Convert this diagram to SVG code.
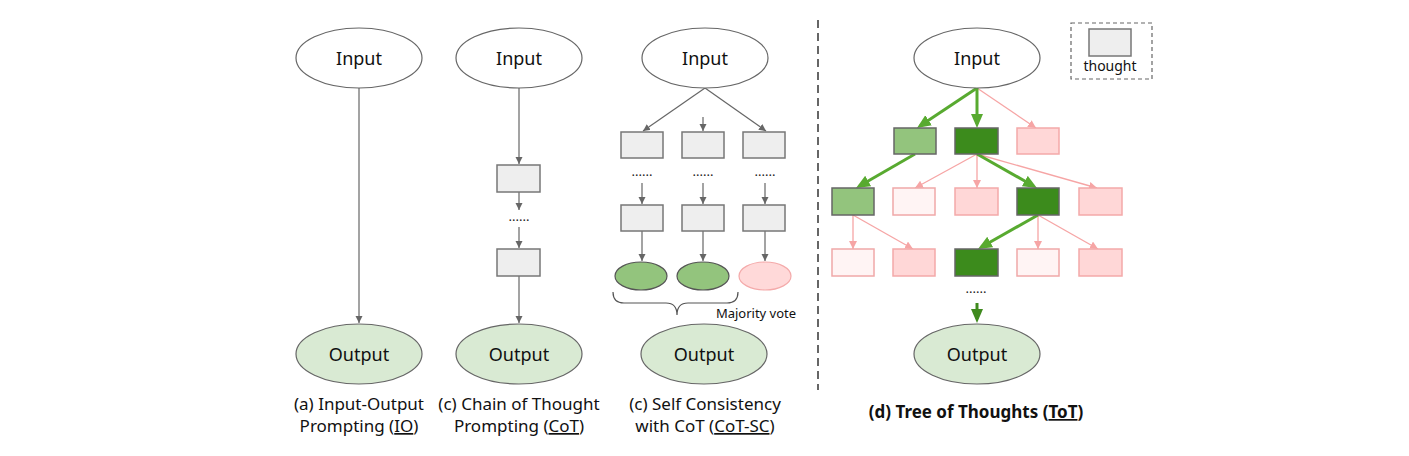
<svg xmlns="http://www.w3.org/2000/svg" width="1409" height="456" viewBox="0 0 1409 456">
<style>
text{font-family:"Noto Sans","Open Sans","DejaVu Sans",sans-serif;fill:#111}
.lbl{font-size:18px;text-anchor:middle}
.cap{font-size:17px;text-anchor:middle}
.dots{font-size:13px;text-anchor:middle;fill:#222}
.u{text-decoration:underline}
.in{fill:#fff;stroke:#666;stroke-width:1.2}
.out{fill:#d9ead3;stroke:#666;stroke-width:1.2}
.gb{fill:#eeeeee;stroke:#777;stroke-width:1.5}
.lg{fill:#93c47d;stroke:#666;stroke-width:1.5}
.dg{fill:#3c8b1c;stroke:#666;stroke-width:1.5}
.pk{fill:#ffd7d7;stroke:#f4a9a9;stroke-width:1.5}
.lp{fill:#fff4f4;stroke:#f0a8a8;stroke-width:1.5}
.ga{stroke:#666;stroke-width:1.2;fill:none;marker-end:url(#mg)}
.pa{stroke:#f6a5a5;stroke-width:1.3;fill:none;marker-end:url(#mp)}
.gr{stroke:#58aa30;stroke-width:3;fill:none;marker-end:url(#mgr)}
.gd{stroke:#3f8a1e;stroke-width:3;fill:none;marker-end:url(#mgd)}
</style>
<defs>
<marker id="mg" markerUnits="userSpaceOnUse" markerWidth="8" markerHeight="8" refX="7" refY="3.5" orient="auto"><path d="M0,0 L7,3.5 L0,7 z" fill="#666"/></marker>
<marker id="mp" markerUnits="userSpaceOnUse" markerWidth="9" markerHeight="9" refX="8" refY="4" orient="auto"><path d="M0,0 L8,4 L0,8 z" fill="#f6a5a5"/></marker>
<marker id="mgr" markerUnits="userSpaceOnUse" markerWidth="15" markerHeight="13" refX="10" refY="6" orient="auto"><path d="M0,0 L14,6 L0,12 z" fill="#58aa30"/></marker>
<marker id="mgd" markerUnits="userSpaceOnUse" markerWidth="15" markerHeight="13" refX="10" refY="6" orient="auto"><path d="M0,0 L14,6 L0,12 z" fill="#3f8a1e"/></marker>
</defs>

<g id="connectors">
<!-- IO -->
<line class="ga" x1="359" y1="88" x2="359" y2="323"/>
<!-- CoT -->
<line class="ga" x1="519" y1="88" x2="519" y2="164"/>
<line class="ga" x1="519" y1="192" x2="519" y2="210"/>
<line class="ga" x1="519" y1="227" x2="519" y2="248"/>
<line class="ga" x1="519" y1="276" x2="519" y2="323"/>
<!-- SC -->
<line class="ga" x1="705" y1="88" x2="643" y2="131"/>
<line class="ga" x1="705" y1="88" x2="766" y2="131"/>
<line class="ga" x1="703" y1="117" x2="703" y2="131"/>
<line class="ga" x1="642" y1="183" x2="642" y2="204"/>
<line class="ga" x1="703" y1="183" x2="703" y2="204"/>
<line class="ga" x1="765" y1="183" x2="765" y2="204"/>
<line class="ga" x1="642" y1="231" x2="642" y2="261"/>
<line class="ga" x1="703" y1="231" x2="703" y2="261"/>
<line class="ga" x1="765" y1="231" x2="765" y2="261"/>
<path d="M613,292 Q613,303 624,303 L666,303 Q677,303 677,315 Q677,303 688,303 L727,303 Q738,303 738,292" fill="none" stroke="#555" stroke-width="1.2"/>
<!-- ToT pink -->
<line class="pa" x1="977" y1="88" x2="1036" y2="128"/>
<line class="pa" x1="977" y1="154" x2="915" y2="188"/>
<line class="pa" x1="977" y1="154" x2="977" y2="188"/>
<line class="pa" x1="977" y1="154" x2="1097" y2="188"/>
<line class="pa" x1="853" y1="215" x2="853" y2="249"/>
<line class="pa" x1="853" y1="215" x2="913" y2="249"/>
<line class="pa" x1="1038" y1="215" x2="1038" y2="249"/>
<line class="pa" x1="1038" y1="215" x2="1098" y2="249"/>
<!-- ToT green -->
<line class="gr" x1="977" y1="88" x2="920.3" y2="125.8"/>
<line class="gr" x1="977" y1="88" x2="977" y2="124"/>
<line class="gr" x1="915" y1="154" x2="859.5" y2="186"/>
<line class="gr" x1="977" y1="154" x2="1033.5" y2="186"/>
<line class="gr" x1="1038" y1="215" x2="981.5" y2="247"/>
<line class="gd" x1="977" y1="303" x2="977" y2="319"/>
</g>

<!-- separator -->
<line x1="818" y1="20" x2="818" y2="390" stroke="#666" stroke-width="2" stroke-dasharray="8,5"/>

<!-- IO -->
<g id="io-input"><ellipse class="in" cx="359" cy="58" rx="63" ry="30"/><text class="lbl" x="359" y="65">Input</text></g>
<g id="io-output"><ellipse class="out" cx="359" cy="354" rx="63" ry="30"/><text class="lbl" x="359" y="361">Output</text></g>
<text class="cap" x="359" y="410">(a) Input-Output</text>
<text class="cap" x="359" y="432">Prompting (<tspan class="u">IO</tspan>)</text>

<!-- CoT -->
<g id="cot-input"><ellipse class="in" cx="519" cy="58" rx="63" ry="30"/><text class="lbl" x="519" y="65">Input</text></g>
<g id="cot-t1"><rect class="gb" x="497" y="165" width="43" height="27"/></g>
<text class="dots" x="519" y="221">......</text>
<g id="cot-t2"><rect class="gb" x="497" y="249" width="43" height="27"/></g>
<g id="cot-output"><ellipse class="out" cx="519" cy="354" rx="63" ry="30"/><text class="lbl" x="519" y="361">Output</text></g>
<text class="cap" x="519" y="410">(c) Chain of Thought</text>
<text class="cap" x="519" y="432">Prompting (<tspan class="u">CoT</tspan>)</text>

<!-- SC -->
<g id="sc-input"><ellipse class="in" cx="705" cy="58" rx="63" ry="30"/><text class="lbl" x="705" y="65">Input</text></g>
<g id="sc-a1"><rect class="gb" x="621" y="132" width="42" height="26"/></g>
<g id="sc-b1"><rect class="gb" x="682" y="132" width="42" height="26"/></g>
<g id="sc-c1"><rect class="gb" x="743" y="132" width="42" height="26"/></g>
<text class="dots" x="642" y="176">......</text>
<text class="dots" x="703" y="176">......</text>
<text class="dots" x="765" y="176">......</text>
<g id="sc-a2"><rect class="gb" x="621" y="205" width="42" height="26"/></g>
<g id="sc-b2"><rect class="gb" x="682" y="205" width="42" height="26"/></g>
<g id="sc-c2"><rect class="gb" x="743" y="205" width="42" height="26"/></g>
<g id="sc-a3"><ellipse cx="641" cy="276" rx="26" ry="14" fill="#93c47d" stroke="#555" stroke-width="1.2"/></g>
<g id="sc-b3"><ellipse cx="703" cy="276" rx="26" ry="14" fill="#93c47d" stroke="#555" stroke-width="1.2"/></g>
<g id="sc-c3"><ellipse cx="765" cy="276" rx="26" ry="14" fill="#ffd9d9" stroke="#f4aaaa" stroke-width="1.2"/></g>
<text x="756" y="318" font-size="13" text-anchor="middle">Majority vote</text>
<g id="sc-output"><ellipse class="out" cx="704" cy="354" rx="63" ry="30"/><text class="lbl" x="704" y="361">Output</text></g>
<text class="cap" x="705" y="410">(c) Self Consistency</text>
<text class="cap" x="705" y="432">with CoT (<tspan class="u">CoT-SC</tspan>)</text>

<!-- ToT -->
<g id="tot-input"><ellipse class="in" cx="977" cy="58" rx="63" ry="30"/><text class="lbl" x="977" y="65">Input</text></g>
<g id="legend"><rect x="1071" y="23" width="81" height="56" fill="none" stroke="#666" stroke-width="1.2" stroke-dasharray="4,3"/><rect class="gb" x="1089" y="29" width="42" height="27"/><text x="1110" y="71" font-size="14" text-anchor="middle">thought</text></g>
<g id="tot-r1a"><rect class="lg" x="894" y="128" width="42" height="26"/></g>
<g id="tot-r1b"><rect class="dg" x="955" y="128" width="43" height="26"/></g>
<g id="tot-r1c"><rect class="pk" x="1017" y="128" width="42" height="26"/></g>
<g id="tot-r2a"><rect class="lg" x="832" y="188" width="42" height="27"/></g>
<g id="tot-r2b"><rect class="lp" x="893" y="188" width="42" height="27"/></g>
<g id="tot-r2c"><rect class="pk" x="955" y="188" width="43" height="27"/></g>
<g id="tot-r2d"><rect class="dg" x="1017" y="188" width="42" height="27"/></g>
<g id="tot-r2e"><rect class="pk" x="1079" y="188" width="43" height="27"/></g>
<g id="tot-r3a"><rect class="lp" x="832" y="249" width="42" height="27"/></g>
<g id="tot-r3b"><rect class="pk" x="893" y="249" width="42" height="27"/></g>
<g id="tot-r3c"><rect class="dg" x="955" y="249" width="43" height="27"/></g>
<g id="tot-r3d"><rect class="lp" x="1017" y="249" width="42" height="27"/></g>
<g id="tot-r3e"><rect class="pk" x="1079" y="249" width="43" height="27"/></g>
<text class="dots" x="976" y="293">......</text>
<g id="tot-output"><ellipse class="out" cx="977" cy="354" rx="63" ry="30"/><text class="lbl" x="977" y="361">Output</text></g>
<text x="976" y="418" font-size="17" font-weight="bold" text-anchor="middle">(d) Tree of Thoughts (<tspan class="u">ToT</tspan>)</text>
</svg>
